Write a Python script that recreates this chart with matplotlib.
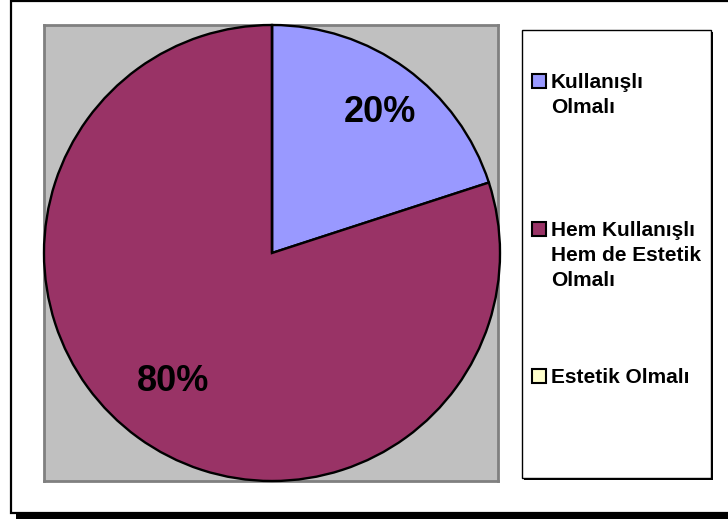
import numpy as np
import matplotlib.pyplot as plt
from matplotlib.patches import Rectangle

categories = ['Kullanışlı\nOlmalı', 'Hem Kullanışlı\nHem de Estetik\nOlmalı', 'Estetik Olmalı']
values = [20, 80, 0]
colors = ['#9999FF', '#993366', '#FFFFCC']

W, H = 728, 519
plt.rcParams['font.family'] = ['Liberation Sans', 'DejaVu Sans']
plt.rcParams['font.weight'] = 'bold'

fig = plt.figure(figsize=(W / 100, H / 100), dpi=100)


def fx(x):
    return x / W


def fy(y):
    return 1 - y / H


# outer chart frame with shadow
fig.patches.append(Rectangle((fx(16), fy(519)), fx(W), 6 / H, transform=fig.transFigure,
                             facecolor='black', edgecolor='none', zorder=0))
fig.patches.append(Rectangle((fx(11), fy(513)), fx(W + 10 - 11), 512 / H, transform=fig.transFigure,
                             facecolor='white', edgecolor='black', linewidth=1.6, zorder=1))

# plot area
ax = fig.add_axes([fx(44), fy(481), fx(498 - 44), 456 / H])
ax.set_zorder(5)


def pct(p):
    return '%.0f%%' % p if p > 0 else ''


wedges, texts, autotexts = ax.pie(values, colors=colors, startangle=90, counterclock=False,
                                  autopct=pct, pctdistance=0.75, radius=1,
                                  wedgeprops=dict(edgecolor='black', linewidth=1.7))
for w in wedges:
    w.set_clip_on(False)
    w.set_zorder(3)
ax.set_frame_on(True)
ax.set_facecolor('#C0C0C0')
for s in ax.spines.values():
    s.set_color('#808080')
    s.set_linewidth(2)
ax.set_xticks([])
ax.set_yticks([])
ax.set_xlim(-1, 226 / 228)
ax.set_ylim(-1, 1)
ax.set_aspect('auto')

label_r = [0.775, 0.71, 0.75]
for w, t, r in zip(wedges, autotexts, label_r):
    mid = np.deg2rad((w.theta1 + w.theta2) / 2 - 1.5)
    t.set_position((r * np.cos(mid), r * np.sin(mid)))
    t.set_fontsize(26)
    t.set_fontweight('bold')
    t.set_color('black')
    t.set_zorder(4)

# legend box
lx0, ly0, lx1, ly1 = 522, 30, 711, 478
fig.patches.append(Rectangle((fx(lx0 + 2), fy(ly1 + 2)), fx(lx1 - lx0), (ly1 - ly0) / H,
                             transform=fig.transFigure, facecolor='black', edgecolor='none', zorder=2))
fig.patches.append(Rectangle((fx(lx0), fy(ly1)), fx(lx1 - lx0), (ly1 - ly0) / H,
                             transform=fig.transFigure, facecolor='white', edgecolor='black',
                             linewidth=1, zorder=3))

for i, (lab, c) in enumerate(zip(categories, colors)):
    yc = 81 + i * 147.5
    fig.patches.append(Rectangle((fx(532), fy(yc + 7)), fx(14), 14 / H, transform=fig.transFigure,
                                 facecolor=c, edgecolor='black', linewidth=1.5, zorder=4))
    fig.text(fx(551), fy(yc - 8), lab, fontsize=15, fontweight='bold', va='top', ha='left',
             linespacing=1.42, zorder=5)

fig.savefig('out.png', dpi=100)
